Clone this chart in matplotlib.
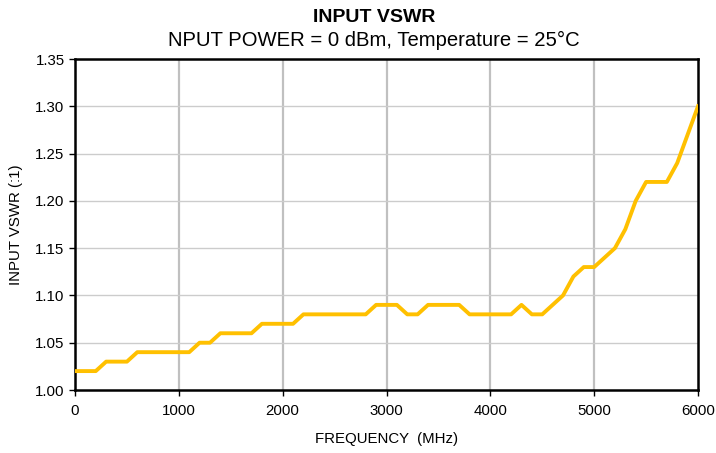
import numpy as np
import matplotlib.pyplot as plt

plt.rcParams['font.family'] = ['Liberation Sans', 'DejaVu Sans']

# Frequency (MHz) and input VSWR
freq = list(range(0, 6001, 100))
vswr = [1.02, 1.02, 1.02, 1.03, 1.03, 1.03, 1.04, 1.04, 1.04, 1.04,
        1.04, 1.04, 1.05, 1.05, 1.06, 1.06, 1.06, 1.06, 1.07, 1.07,
        1.07, 1.07, 1.08, 1.08, 1.08, 1.08, 1.08, 1.08, 1.08, 1.09,
        1.09, 1.09, 1.08, 1.08, 1.09, 1.09, 1.09, 1.09, 1.08, 1.08,
        1.08, 1.08, 1.08, 1.09, 1.08, 1.08, 1.09, 1.10, 1.12, 1.13,
        1.13, 1.14, 1.15, 1.17, 1.20, 1.22, 1.22, 1.22, 1.24, 1.27,
        1.30]

xticks = [0, 1000, 2000, 3000, 4000, 5000, 6000]
yticks = [1.00, 1.05, 1.10, 1.15, 1.20, 1.25, 1.30, 1.35]

fig = plt.figure(figsize=(7.16, 4.53), dpi=100)
ax = fig.add_axes([75/716, 1 - 390/453, 623/716, 331/453])

for x in xticks[1:-1]:
    ax.axvline(x, color='#c0c0c0', lw=1.6, zorder=1)
for y in yticks[1:-1]:
    ax.axhline(y, color='#cccccc', lw=1.0, zorder=1)

ax.plot(freq, vswr, color='#FFC000', lw=2.8, zorder=3, solid_joinstyle='round')

ax.set_xlim(0, 6000)
ax.set_ylim(1.0, 1.35)
ax.set_xticks(xticks)
ax.set_yticks(yticks)
ax.set_yticklabels([f'{v:.2f}' for v in yticks])
ax.tick_params(direction='out', length=4, width=1, labelsize=10.8)
ax.tick_params(axis='x', pad=6)
for s in ax.spines.values():
    s.set_linewidth(1.8)
    s.set_color('black')

ax.set_xlabel('FREQUENCY  (MHz)', fontsize=10.8, labelpad=10)
ax.set_ylabel('INPUT VSWR (:1)', fontsize=10.8, labelpad=9)

fig.text(374/716, 1 - 18/453, 'INPUT VSWR', ha='center', va='center',
         fontsize=14, fontweight='bold')
fig.text(374/716, 1 - 40/453, 'NPUT POWER = 0 dBm, Temperature = 25°C',
         ha='center', va='center', fontsize=14.6)

fig.savefig('out.png', dpi=100)
